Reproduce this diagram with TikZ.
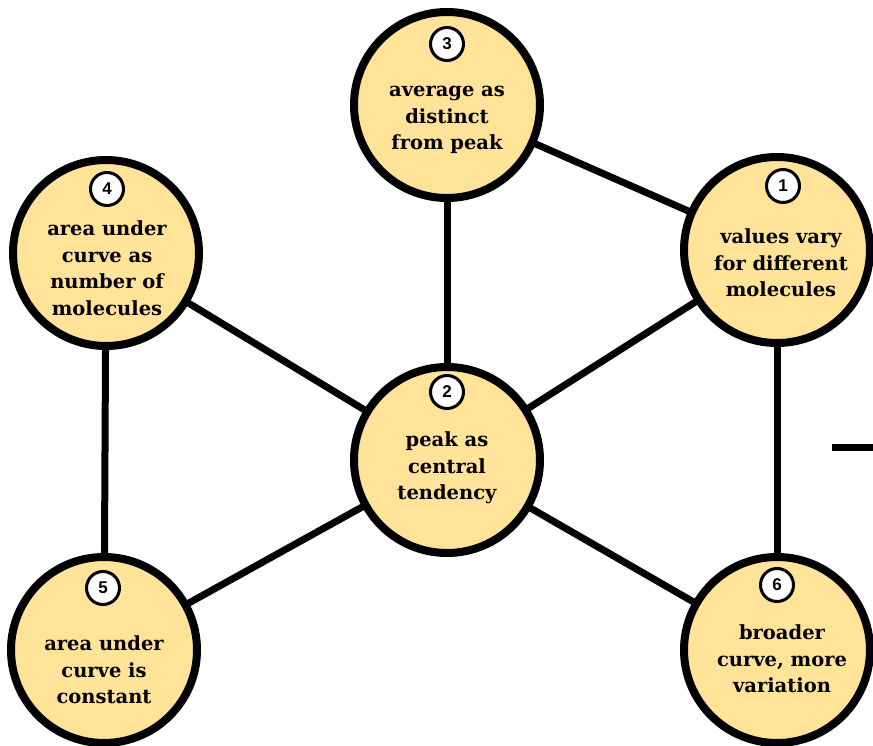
\documentclass[tikz,border=0pt]{standalone}
\usepackage{fontspec}
\usetikzlibrary{backgrounds}
\newfontfamily\badgefont{Liberation Sans}
\newfontfamily\captionfont{DejaVu Serif}
\definecolor{conceptfill}{RGB}{255,227,153}
\tikzset{
  concept/.style={circle, draw=black, line width=8pt, fill=conceptfill, minimum size=186pt, inner sep=0pt},
  badge/.style={circle, draw=black, line width=3pt, fill=white, minimum size=33pt, inner sep=0pt, font=\badgefont\bfseries\fontsize{17}{17}\selectfont},
  caption/.style={align=center, inner sep=0pt, font=\captionfont\bfseries\fontsize{19.5}{26.5}\selectfont},
  link/.style={line width=7pt}
}
\begin{document}
\begin{tikzpicture}[x=1pt, y=-1pt]
\useasboundingbox (0,0) rectangle (873,746);

% concept circles
\node[concept] (c3) at (447,105) {};
\node[concept] (c1) at (777,250) {};
\node[concept] (c4) at (106,253) {};
\node[concept] (c2) at (447,460) {};
\node[concept] (c5) at (104,650) {};
\node[concept] (c6) at (777,650) {};

% links between concepts, behind the circles
\begin{scope}[on background layer]
\draw[link] (c3.center) -- (c2.center);
\draw[link] (c3.center) -- (c1.center);
\draw[link] (c4.center) -- (c2.center);
\draw[link] (c1.center) -- (c2.center);
\draw[link] (c4.center) -- (c5.center);
\draw[link] (c5.center) -- (c2.center);
\draw[link] (c2.center) -- (c6.center);
\draw[link] (c1.center) -- (c6.center);
\end{scope}

% numbered badges
\node[badge] (b3) at (447,44) {3};
\node[badge] (b1) at (783,186) {1};
\node[badge] (b4) at (107,189) {4};
\node[badge] (b2) at (447,392) {2};
\node[badge] (b5) at (103,588) {5};
\node[badge] (b6) at (777,585) {6};

% captions
\node[caption] (t3) at (447,120) {average as\\distinct\\from peak};
\node[caption] (t1) at (781,263) {values vary\\for different\\molecules};
\node[caption] (t4) at (107,268) {area under\\curve as\\number of\\molecules};
\node[caption] (t2) at (447,468) {peak as\\central\\tendency};
\node[caption] (t5) at (104,670) {area under\\curve is\\constant};
\node[caption] (t6) at (782,659) {broader\\curve, more\\variation};

% stray dash at the right edge
\coordinate (dashL) at (832,447);
\coordinate (dashR) at (880,447);
\draw[line width=7pt] (dashL) -- (dashR);

\end{tikzpicture}
\end{document}
